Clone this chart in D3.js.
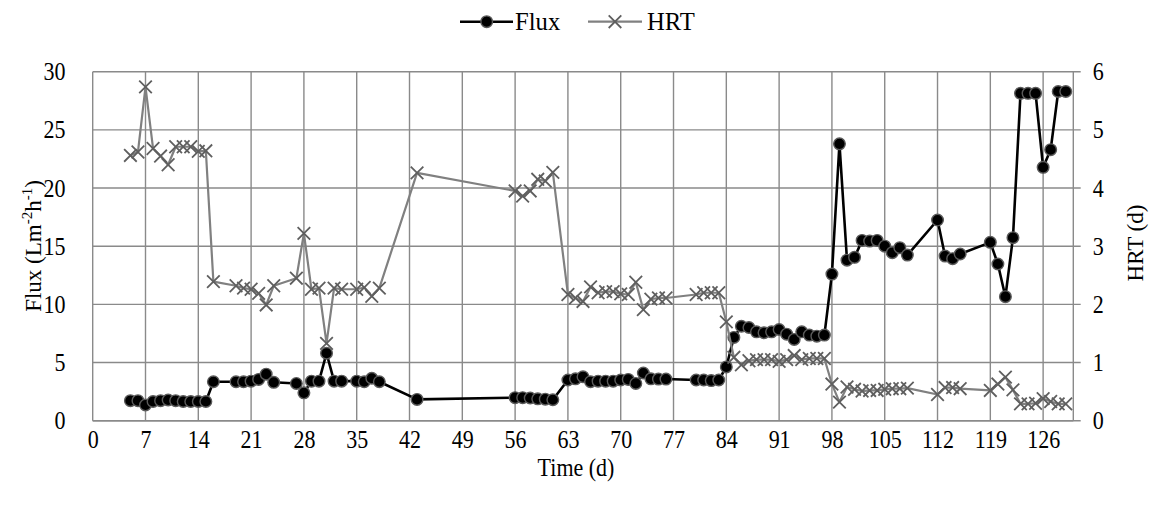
<!DOCTYPE html>
<html>
<head>
<meta charset="utf-8">
<script src="https://cdn.jsdelivr.net/npm/d3@7"></script>
<style>
html,body{margin:0;padding:0;background:#fff;}
svg{display:block;}
text{font-family:"Liberation Serif","Times New Roman",serif;fill:#000;}
</style>
</head>
<body>
<svg id="chart" width="1152" height="507"></svg>
<script>
const days = [5,6,7,8,9,10,11,12,13,14,15,16,
  19,20,21,22,23,24,
  27,28,29,30,31,32,33,
  35,36,37,38,
  43,
  56,57,58,59,60,61,
  63,64,65,66,67,68,69,70,71,72,73,74,75,76,
  80,81,82,83,84,85,86,87,88,89,90,91,92,93,94,95,96,97,98,99,100,101,102,103,104,105,106,107,108,
  112,113,114,115,
  119,120,121,122,123,124,125,126,127,128,129];

const flux = [1.72,1.72,1.35,1.65,1.72,1.78,1.72,1.65,1.65,1.65,1.65,3.35,
  3.35,3.35,3.4,3.55,4.0,3.3,
  3.2,2.4,3.4,3.4,5.8,3.4,3.4,
  3.4,3.35,3.65,3.35,
  1.83,
  1.98,1.98,1.95,1.88,1.85,1.8,
  3.5,3.6,3.78,3.35,3.4,3.4,3.4,3.5,3.55,3.2,4.1,3.6,3.58,3.58,
  3.5,3.5,3.45,3.5,4.62,7.16,8.12,8.01,7.64,7.56,7.64,7.84,7.44,6.99,7.64,7.36,7.27,7.36,12.6,23.8,13.8,14.04,15.5,15.44,15.5,15.0,14.44,14.87,14.24,
  17.25,14.15,13.93,14.33,
  15.33,13.47,10.66,15.73,28.14,28.14,28.14,21.78,23.3,28.3,28.3];

const hrt = [4.56,4.62,5.74,4.68,4.55,4.40,4.71,4.71,4.71,4.63,4.64,2.39,
  2.32,2.28,2.26,2.19,1.99,2.32,
  2.45,3.22,2.26,2.28,1.33,2.28,2.26,
  2.26,2.29,2.14,2.28,
  4.26,
  3.95,3.86,3.95,4.15,4.12,4.27,
  2.17,2.11,2.05,2.30,2.20,2.22,2.22,2.18,2.17,2.38,1.91,2.09,2.11,2.11,
  2.17,2.20,2.20,2.20,1.70,1.09,0.96,1.03,1.05,1.05,1.05,1.02,1.05,1.12,1.05,1.07,1.07,1.07,0.63,0.32,0.58,0.54,0.51,0.52,0.52,0.54,0.55,0.55,0.56,
  0.45,0.57,0.57,0.55,
  0.52,0.63,0.75,0.53,0.29,0.29,0.30,0.38,0.33,0.29,0.29];

const xTicks = [0,7,14,21,28,35,42,49,56,63,70,77,84,91,98,105,112,119,126];
const fluxTicks = [0,5,10,15,20,25,30];
const hrtTicks = [0,1,2,3,4,5,6];

const svg = d3.select("#chart");
const L = 92.7, R = 1073.3, T = 71.7, B = 420.7;
const x = d3.scaleLinear().domain([0,130]).range([L,R]);
const yL = d3.scaleLinear().domain([0,30]).range([B,T]);
const yR = d3.scaleLinear().domain([0,6]).range([B,T]);

const gridColor = "#8a8a8a";
const FS = 25, SX = 0.88;

// horizontal gridlines
svg.append("g").selectAll("line").data(fluxTicks).join("line")
  .attr("x1", L).attr("x2", R + 7.4)
  .attr("y1", d => yL(d)).attr("y2", d => yL(d))
  .attr("stroke", gridColor).attr("stroke-width", 1.4);
// vertical gridlines
svg.append("g").selectAll("line").data(xTicks.concat([130])).join("line")
  .attr("x1", d => x(d)).attr("x2", d => x(d))
  .attr("y1", T).attr("y2", B)
  .attr("stroke", gridColor).attr("stroke-width", 1.4);

const xAxis = svg.append("g").attr("transform", `translate(0,${B})`)
  .call(d3.axisBottom(x).tickValues(xTicks).tickFormat(d3.format("d")).tickSize(0).tickPadding(10));
const yAxisL = svg.append("g").attr("transform", `translate(${L},0)`)
  .call(d3.axisLeft(yL).tickValues(fluxTicks).tickFormat(d3.format("d")).tickSize(0).tickPadding(31));
const yAxisR = svg.append("g").attr("transform", `translate(${R},0)`)
  .call(d3.axisRight(yR).tickValues(hrtTicks).tickFormat(d3.format("d")).tickSize(0).tickPadding(22));
[xAxis, yAxisL, yAxisR].forEach(g => {
  g.select(".domain").remove();
  g.selectAll("text").attr("font-size", FS).attr("font-family", "Liberation Serif")
    .attr("fill", "#000").attr("transform", `scale(${SX},1)`);
});

svg.append("line").attr("x1", L).attr("x2", R).attr("y1", B).attr("y2", B)
  .attr("stroke", gridColor).attr("stroke-width", 1.6);

const fluxData = days.map((d,i) => [d, flux[i]]);
const hrtData = days.map((d,i) => [d, hrt[i]]);

svg.append("path").datum(fluxData)
  .attr("fill", "none").attr("stroke", "#000").attr("stroke-width", 2.6)
  .attr("stroke-linejoin", "round")
  .attr("d", d3.line().x(d => x(d[0])).y(d => yL(d[1])));
svg.append("g").selectAll("circle").data(fluxData).join("circle")
  .attr("cx", d => x(d[0])).attr("cy", d => yL(d[1])).attr("r", 5.8)
  .attr("fill", "#000").attr("stroke", "#5a5a5a").attr("stroke-width", 1.4);

svg.append("path").datum(hrtData)
  .attr("fill", "none").attr("stroke", "#808080").attr("stroke-width", 2.2)
  .attr("stroke-linejoin", "round")
  .attr("d", d3.line().x(d => x(d[0])).y(d => yR(d[1])));
const cs = 6.3;
const crossPath = `M${-cs},${-cs}L${cs},${cs}M${-cs},${cs}L${cs},${-cs}`;
svg.append("g").selectAll("path").data(hrtData).join("path")
  .attr("transform", d => `translate(${x(d[0])},${yR(d[1])})`)
  .attr("d", crossPath).attr("fill", "none")
  .attr("stroke", "#5f5f5f").attr("stroke-width", 1.8);

// axis titles
svg.append("text").attr("transform", `translate(576,476) scale(${SX},1)`).attr("text-anchor", "middle")
  .attr("font-size", FS).text("Time (d)");

const yt = svg.append("text").attr("transform", "translate(41,246) rotate(-90)")
  .attr("text-anchor", "middle").attr("font-size", 23);
yt.append("tspan").text("Flux (Lm");
yt.append("tspan").attr("font-size", 15).attr("dy", -9).text("-2");
yt.append("tspan").attr("dy", 9).text("h");
yt.append("tspan").attr("font-size", 15).attr("dy", -9).text("-1");
yt.append("tspan").attr("dy", 9).text(")");

svg.append("text").attr("transform", "translate(1143,243) rotate(-90)")
  .attr("text-anchor", "middle").attr("font-size", 23).text("HRT (d)");

// legend
const ly = 21.7;
const lg = svg.append("g");
lg.append("line").attr("x1", 460).attr("x2", 513).attr("y1", ly).attr("y2", ly)
  .attr("stroke", "#000").attr("stroke-width", 2.6);
lg.append("circle").attr("cx", 486.7).attr("cy", ly).attr("r", 5.8)
  .attr("fill", "#000").attr("stroke", "#5a5a5a").attr("stroke-width", 1.4);
lg.append("text").attr("transform", `translate(515,${ly + 8.5}) scale(0.95,1)`).attr("font-size", 26).text("Flux");
lg.append("line").attr("x1", 588).attr("x2", 642).attr("y1", ly).attr("y2", ly)
  .attr("stroke", "#808080").attr("stroke-width", 2.2);
lg.append("path").attr("transform", `translate(615,${ly})`).attr("d", crossPath)
  .attr("fill", "none").attr("stroke", "#5f5f5f").attr("stroke-width", 1.8);
lg.append("text").attr("transform", `translate(647,${ly + 8.5}) scale(0.95,1)`).attr("font-size", 26).text("HRT");
</script>
</body>
</html>
